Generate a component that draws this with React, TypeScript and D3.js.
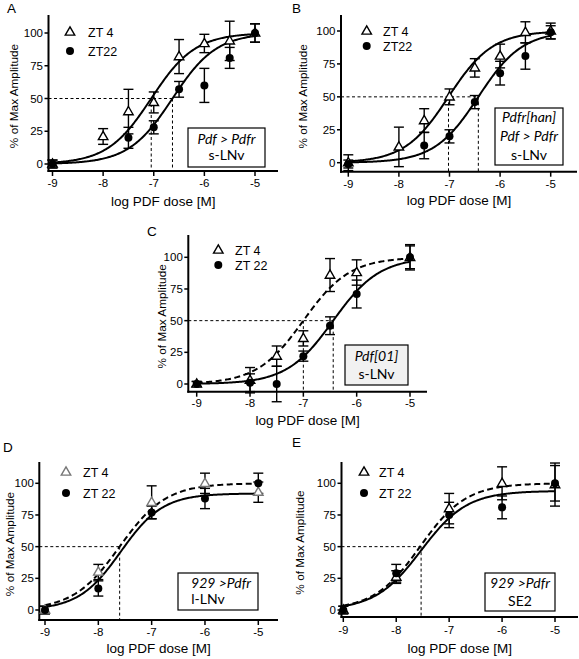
import React from 'react';
import * as d3 from 'd3';

// ---------- DATA ----------
const xTicks = [-9, -8, -7, -6, -5];
const yTicks = [0, 25, 50, 75, 100];
const seriesNames = ['ZT 4', 'ZT22'];
const seriesNamesSpaced = ['ZT 4', 'ZT 22'];

// Panel A  (Pdf > Pdfr, s-LNv)
const aDoseZT4 = [-9, -8, -7.5, -7, -6.5, -6, -5.5, -5];
const aMeanZT4 = [0, 21, 40, 47, 82, 92, 94, 100];
const aSemZT4 = [3, 6, 17, 8, 13, 7, 15, 7];
const aDoseZT22 = [-9, -7.5, -7, -6.5, -6, -5.5, -5];
const aMeanZT22 = [0, 20, 28, 57, 60, 81, 100];
const aSemZT22 = [3, 8, 5, 6, 13, 8, 7];
const aEC50 = [-7.05, -6.63];
const aTop = [100, 100];
const aHill = [1, 1];

// Panel B  (Pdfr[han] Pdf > Pdfr, s-LNv)
const bDoseZT4 = [-9, -8, -7.5, -7, -6.5, -6, -5.5, -5];
const bMeanZT4 = [0, 12, 32, 50, 72, 81, 99, 100];
const bSemZT4 = [6, 15, 9, 6, 7, 9, 8, 6];
const bDoseZT22 = [-9, -7.5, -7, -6.5, -6, -5.5, -5];
const bMeanZT22 = [-1, 13, 20, 46, 68, 81, 99];
const bSemZT22 = [3, 10, 5, 5, 9, 10, 5];
const bEC50 = [-7.02, -6.43];
const bTop = [100, 100];
const bHill = [1, 1];

// Panel C  (Pdf[01], s-LNv)
const cDose = [-9, -8, -7.5, -7, -6.5, -6, -5];
const cMeanZT4 = [0, 3, 22, 36, 86, 88, 100];
const cSemZT4 = [2, 10, 8, 6, 13, 10, 10];
const cMeanZT22 = [0, 1, 0, 22, 46, 71, 100];
const cSemZT22 = [2, 7, 14, 4, 7, 11, 9];
const cEC50 = [-7.0, -6.44];
const cTop = [100, 100];
const cHill = [1, 1];

// Panel D  (929 > Pdfr, l-LNv)
const dDose = [-9, -8, -7, -6, -5];
const dMeanZT4 = [0, 30, 85, 100, 93];
const dSemZT4 = [3, 6, 13, 8, 8];
const dMeanZT22 = [0, 17, 77, 88, 100];
const dSemZT22 = [3, 6, 5, 8, 8];
const dEC50 = [-7.6, -7.58];
const dTop = [100, 92];
const dHill = [1, 1.1];

// Panel E  (929 > Pdfr, SE2)
const eDose = [-9, -8, -7, -6, -5];
const eMeanZT4 = [0, 26, 80, 100, 99];
const eSemZT4 = [3, 5, 12, 13, 17];
const eMeanZT22 = [0, 29, 75, 81, 100];
const eSemZT22 = [3, 7, 10, 9, 14];
const eEC50 = [-7.55, -7.53];
const eTop = [100, 94];
const eHill = [1, 1];

// ---------- LAYOUT ----------
type Series = { dose: number[]; mean: number[]; sem: number[]; ec50: number; top: number; hill: number; shape: 'tri' | 'dot'; dashed: boolean; color: string };
type BoxLine = { text: string; italic: boolean; dx?: number };
type PanelCfg = {
  title: string; titleXY: [number, number];
  xPix: [number, number]; yPix: [number, number];
  axisX: number; axisY: number; yTop: number; xRight: number;
  series: Series[];
  refLines: number[]; hEnd: number;
  box: { x: number; y: number; w: number; h: number; fill: string; gap: number; lines: BoxLine[] };
  legend: { x: number; y1: number; y2: number; tx: number; names: string[]; triColor: string };
  yLabelX: number; xLabelY: number; xTickY: number;
};

const FONT = 'Liberation Sans, Arial, Helvetica, sans-serif';
const BOXFONT = 'Lato, "Open Sans", sans-serif';

const mk = (dose: number[], mean: number[], sem: number[], ec50: number, top: number, hill: number, shape: 'tri' | 'dot', dashed: boolean, color = '#000'): Series =>
  ({ dose, mean, sem, ec50, top, hill, shape, dashed, color });

const panels: PanelCfg[] = [
  {
    title: 'A', titleXY: [7, 13], xPix: [52.5, 255], yPix: [164, 33], axisX: 48.5, axisY: 171, yTop: 15, xRight: 278,
    series: [mk(aDoseZT4, aMeanZT4, aSemZT4, aEC50[0], aTop[0], aHill[0], 'tri', false),
             mk(aDoseZT22, aMeanZT22, aSemZT22, aEC50[1], aTop[1], aHill[1], 'dot', false)],
    refLines: aEC50, hEnd: aEC50[1],
    box: { x: 188, y: 128, w: 77, h: 39, fill: '#fff', gap: 16, lines: [{ text: 'Pdf > Pdfr', italic: true }, { text: 's-LNv', italic: false }] },
    legend: { x: 70, y1: 32, y2: 51, tx: 88, names: seriesNames, triColor: '#000' },
    yLabelX: 13, xLabelY: 206, xTickY: 187,
  },
  {
    title: 'B', titleXY: [292, 13], xPix: [348.3, 550.7], yPix: [162.7, 31], axisX: 341, axisY: 171.7, yTop: 15, xRight: 577,
    series: [mk(bDoseZT4, bMeanZT4, bSemZT4, bEC50[0], bTop[0], bHill[0], 'tri', false),
             mk(bDoseZT22, bMeanZT22, bSemZT22, bEC50[1], bTop[1], bHill[1], 'dot', false)],
    refLines: bEC50, hEnd: bEC50[1],
    box: { x: 495, y: 108, w: 68, h: 57, fill: '#fff', gap: 19, lines: [{ text: 'Pdfr[han]', italic: true }, { text: 'Pdf > Pdfr', italic: true }, { text: 's-LNv', italic: false }] },
    legend: { x: 366.7, y1: 31, y2: 46, tx: 383, names: seriesNames, triColor: '#000' },
    yLabelX: 302, xLabelY: 205, xTickY: 187.5,
  },
  {
    title: 'C', titleXY: [147, 236], xPix: [196.7, 410], yPix: [384, 257.3], axisX: 188.3, axisY: 391.7, yTop: 235, xRight: 427,
    series: [mk(cDose, cMeanZT4, cSemZT4, cEC50[0], cTop[0], cHill[0], 'tri', true),
             mk(cDose, cMeanZT22, cSemZT22, cEC50[1], cTop[1], cHill[1], 'dot', false)],
    refLines: cEC50, hEnd: cEC50[1],
    box: { x: 345, y: 345, w: 63, h: 40, fill: '#f1f1f1', gap: 18, lines: [{ text: 'Pdf[01]', italic: true }, { text: 's-LNv', italic: false }] },
    legend: { x: 218.3, y1: 250, y2: 265, tx: 235, names: seriesNamesSpaced, triColor: '#000' },
    yLabelX: 161, xLabelY: 425, xTickY: 407,
  },
  {
    title: 'D', titleXY: [3, 452], xPix: [45, 258.3], yPix: [610, 483.3], axisX: 39.3, axisY: 620, yTop: 462, xRight: 278,
    series: [mk(dDose, dMeanZT4, dSemZT4, dEC50[0], dTop[0], dHill[0], 'tri', true, '#777'),
             mk(dDose, dMeanZT22, dSemZT22, dEC50[1], dTop[1], dHill[1], 'dot', false)],
    refLines: [dEC50[0]], hEnd: dEC50[0],
    box: { x: 178, y: 573, w: 80, h: 37, fill: '#fff', gap: 16, lines: [{ text: '929 >Pdfr', italic: true, dx: 3 }, { text: 'l-LNv', italic: false, dx: -10 }] },
    legend: { x: 66, y1: 472, y2: 493, tx: 83, names: seriesNamesSpaced, triColor: '#777' },
    yLabelX: 9, xLabelY: 653, xTickY: 636,
  },
  {
    title: 'E', titleXY: [292, 447], xPix: [343.3, 555], yPix: [610, 483.3], axisX: 341.5, axisY: 617, yTop: 462, xRight: 578,
    series: [mk(eDose, eMeanZT4, eSemZT4, eEC50[0], eTop[0], eHill[0], 'tri', true),
             mk(eDose, eMeanZT22, eSemZT22, eEC50[1], eTop[1], eHill[1], 'dot', false)],
    refLines: [eEC50[1]], hEnd: eEC50[1],
    box: { x: 485, y: 573, w: 70, h: 38, fill: '#fff', gap: 18, lines: [{ text: '929 >Pdfr', italic: true }, { text: 'SE2', italic: false }] },
    legend: { x: 364, y1: 472, y2: 493, tx: 379, names: seriesNamesSpaced, triColor: '#000' },
    yLabelX: 299, xLabelY: 653, xTickY: 633.5,
  },
];

const triPath = (cx: number, cy: number, s = 9.5) => {
  const h = s * 0.87;
  return `M${cx},${cy - h * 0.62}L${cx + s / 2},${cy + h * 0.38}L${cx - s / 2},${cy + h * 0.38}Z`;
};

function Panel({ p }: { p: PanelCfg }) {
  const x = d3.scaleLinear().domain([-9, -5]).range(p.xPix);
  const y = d3.scaleLinear().domain([0, 100]).range(p.yPix);
  const curve = (s: Series) => {
    const pts = d3.range(-9, -4.999, 0.02).map(lx => [x(lx), y(s.top / (1 + Math.pow(10, (s.ec50 - lx) * s.hill)))] as [number, number]);
    return d3.line()(pts) || '';
  };
  const y50 = y(50);
  const n = p.box.lines.length;
  return (
    <g>
      <text x={p.titleXY[0]} y={p.titleXY[1]} fontFamily={FONT} fontSize={13.5}>{p.title}</text>
      {/* reference dashed lines */}
      <line x1={p.axisX} x2={x(p.hEnd)} y1={y50} y2={y50} stroke="#000" strokeWidth={1} strokeDasharray="3,2.5" />
      {p.refLines.map((r, i) => (
        <line key={i} x1={x(r)} x2={x(r)} y1={y50} y2={p.axisY} stroke="#000" strokeWidth={1} strokeDasharray="3,2.5" />
      ))}
      {/* legend box */}
      <rect x={p.box.x} y={p.box.y} width={p.box.w} height={p.box.h} fill={p.box.fill} stroke="#000" strokeWidth={1.2} />
      {p.box.lines.map((l, i) => (
        <text key={i} x={p.box.x + p.box.w / 2 + (l.dx || 0)} y={p.box.y + p.box.h / 2 + (i - (n - 1) / 2) * p.box.gap + 4.8}
          textAnchor="middle" fontFamily={BOXFONT} fontSize={14} fontStyle={l.italic ? 'italic' : 'normal'}>{l.text}</text>
      ))}
      {/* axes */}
      <line x1={p.axisX} x2={p.axisX} y1={p.yTop} y2={p.axisY + 1} stroke="#000" strokeWidth={2} />
      <line x1={p.axisX - 1} x2={p.xRight} y1={p.axisY} y2={p.axisY} stroke="#000" strokeWidth={2} />
      {yTicks.map(t => (
        <g key={t}>
          <line x1={p.axisX - 4} x2={p.axisX} y1={y(t)} y2={y(t)} stroke="#000" strokeWidth={1.5} />
          <text x={p.axisX - 5.5} y={y(t) + 4} textAnchor="end" fontFamily={FONT} fontSize={11.5}>{t}</text>
        </g>
      ))}
      {xTicks.map(t => (
        <g key={t}>
          <line x1={x(t)} x2={x(t)} y1={p.axisY} y2={p.axisY + 5} stroke="#000" strokeWidth={1.5} />
          <text x={x(t)} y={p.xTickY} textAnchor="middle" fontFamily={FONT} fontSize={11.5}>{String(t)}</text>
        </g>
      ))}
      <text x={(p.axisX + p.xRight) / 2} y={p.xLabelY} textAnchor="middle" fontFamily={FONT} fontSize={13.5}>log PDF dose [M]</text>
      <text transform={`translate(${p.yLabelX + 4.5},${(p.yTop + p.axisY) / 2 + 3}) rotate(-90)`} textAnchor="middle" fontFamily={FONT} fontSize={11.8}>% of Max Amplitude</text>
      {/* curves */}
      {p.series.map((s, i) => (
        <path key={i} d={curve(s)} fill="none" stroke="#000" strokeWidth={2} strokeDasharray={s.dashed ? '6,3.5' : undefined} />
      ))}
      {/* error bars */}
      {p.series.map((s, si) => s.dose.map((d, j) => {
        const cx = x(d), y1 = y(s.mean[j] + s.sem[j]), y2 = y(s.mean[j] - s.sem[j]);
        return (
          <g key={`${si}-${j}`} stroke="#000" strokeWidth={1.4}>
            <line x1={cx} x2={cx} y1={y1} y2={y2} />
            <line x1={cx - 5} x2={cx + 5} y1={y1} y2={y1} />
            <line x1={cx - 5} x2={cx + 5} y1={y2} y2={y2} />
          </g>
        );
      }))}
      {/* markers */}
      {p.series.map((s, si) => s.dose.map((d, j) => s.shape === 'tri'
        ? <path key={`m${si}-${j}`} d={triPath(x(d), y(s.mean[j]))} fill="#fff" stroke={s.color} strokeWidth={1.4} />
        : <circle key={`m${si}-${j}`} cx={x(d)} cy={y(s.mean[j])} r={4} fill="#000" />))}
      {/* legend */}
      <path d={triPath(p.legend.x, p.legend.y1)} fill="#fff" stroke={p.legend.triColor} strokeWidth={1.4} />
      <circle cx={p.legend.x} cy={p.legend.y2} r={4} fill="#000" />
      <text x={p.legend.tx} y={p.legend.y1 + 4.5} fontFamily={FONT} fontSize={12.5}>{p.legend.names[0]}</text>
      <text x={p.legend.tx} y={p.legend.y2 + 4.5} fontFamily={FONT} fontSize={12.5}>{p.legend.names[1]}</text>
    </g>
  );
}

export default function App() {
  return (
    <svg width={579} height={659} viewBox="0 0 579 659" style={{ position: 'absolute', left: 0, top: 0, background: '#fff' }}>
      <rect x={0} y={0} width={579} height={659} fill="#fff" />
      {panels.map(p => <Panel key={p.title} p={p} />)}
    </svg>
  );
}
